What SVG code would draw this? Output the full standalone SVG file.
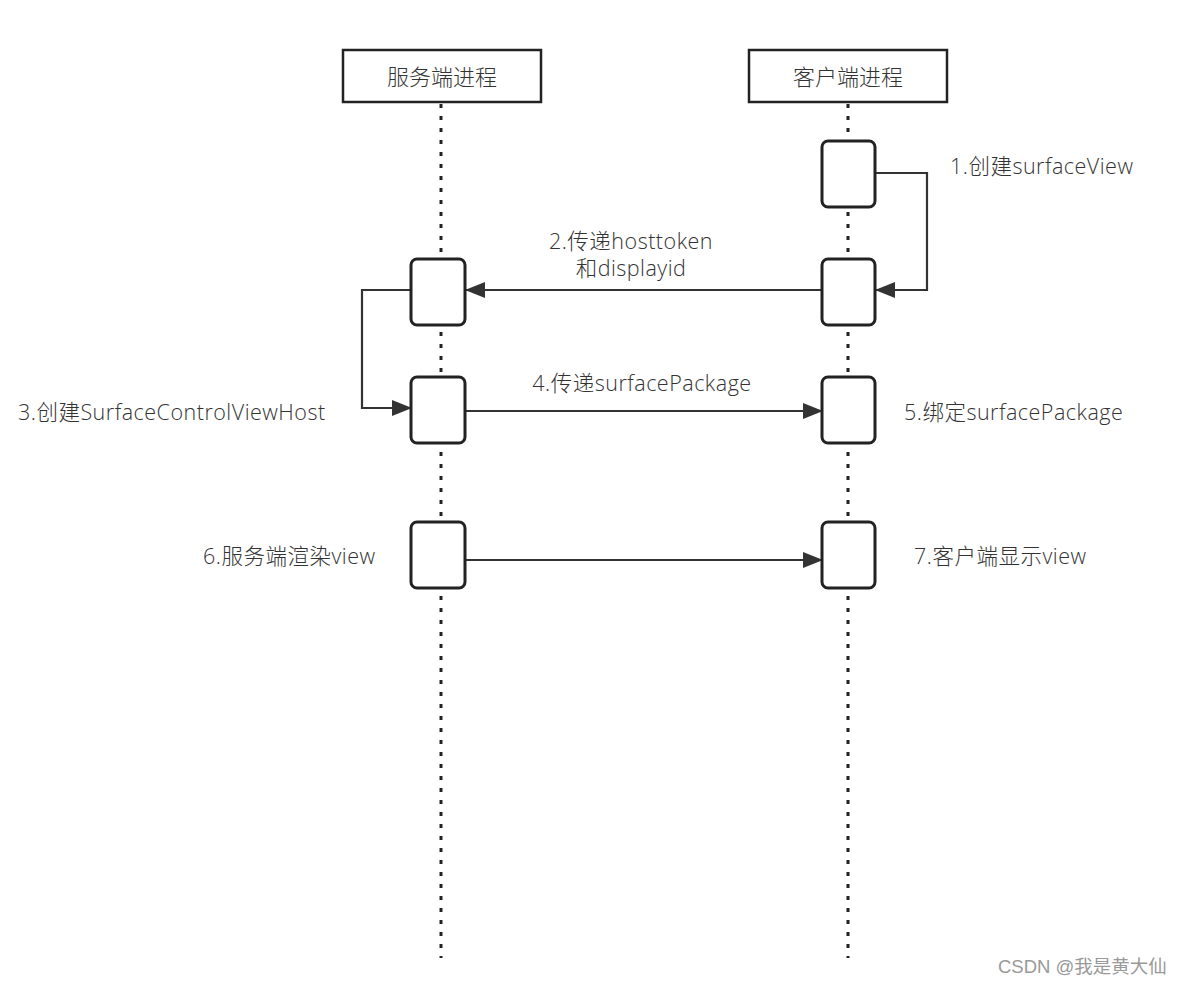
<svg xmlns="http://www.w3.org/2000/svg" width="1184" height="986" viewBox="0 0 1184 986">
<defs>
<marker id="ah" markerWidth="20" markerHeight="16" refX="19" refY="8" orient="auto" markerUnits="userSpaceOnUse" viewBox="0 0 20 16">
<path d="M0,0 L20,8 L0,16 Z" fill="#333"/>
</marker>
<style>
.life{stroke:#222;stroke-width:3;stroke-dasharray:4 8;fill:none}
.hdr{fill:#fff;stroke:#222;stroke-width:2.5}
.act{fill:#fff;stroke:#222;stroke-width:3}
.msg{stroke:#333;stroke-width:2.2;fill:none}
.t{font-family:"Open Sans","Noto Sans","Noto Sans CJK SC",sans-serif;font-size:21.5px;font-weight:300;fill:#333;letter-spacing:0.5px}
.h{font-size:22px;letter-spacing:0}
.wm{font-family:"Liberation Sans","Noto Sans CJK SC",sans-serif;font-size:18.5px;fill:#999}
</style>
</defs>
<rect width="1184" height="986" fill="#fff"/>
<g id="lifelines">
<line class="life" x1="441" y1="104" x2="441" y2="958"/>
<line class="life" x1="848" y1="104" x2="848" y2="958"/>
</g>
<g id="server-header"><rect class="hdr" x="343" y="50" width="198" height="52"/><text class="t h" x="442" y="85" text-anchor="middle">服务端进程</text></g>
<g id="client-header"><rect class="hdr" x="749" y="50" width="198" height="52"/><text class="t h" x="848" y="85" text-anchor="middle">客户端进程</text></g>
<g id="connectors">
<polyline class="msg" points="875,173 927,173 927,290 876,290" marker-end="url(#ah)"/>
<line class="msg" x1="822" y1="290" x2="466" y2="290" marker-end="url(#ah)"/>
<polyline class="msg" points="411,290 362,290 362,408 411,408" marker-end="url(#ah)"/>
<line class="msg" x1="465" y1="411" x2="822" y2="411" marker-end="url(#ah)"/>
<line class="msg" x1="465" y1="560" x2="822" y2="560" marker-end="url(#ah)"/>
</g>
<g id="c1"><rect class="act" x="822" y="141" width="53" height="66" rx="6"/></g>
<g id="c2"><rect class="act" x="822" y="259" width="53" height="66" rx="6"/></g>
<g id="c3"><rect class="act" x="822" y="377" width="53" height="66" rx="6"/></g>
<g id="c4"><rect class="act" x="822" y="522" width="53" height="66" rx="6"/></g>
<g id="s1"><rect class="act" x="411" y="259" width="54" height="66" rx="6"/></g>
<g id="s2"><rect class="act" x="411" y="377" width="54" height="66" rx="6"/></g>
<g id="s3"><rect class="act" x="411" y="522" width="54" height="66" rx="6"/></g>
<g id="labels">
<text class="t" x="950" y="174">1.创建surfaceView</text>
<text class="t" x="631" y="249" text-anchor="middle">2.传递hosttoken</text>
<text class="t" x="631" y="276" text-anchor="middle">和displayid</text>
<text class="t" x="18" y="420">3.创建SurfaceControlViewHost</text>
<text class="t" x="642" y="391" text-anchor="middle">4.传递surfacePackage</text>
<text class="t" x="904" y="420">5.绑定surfacePackage</text>
<text class="t" x="203" y="564">6.服务端渲染view</text>
<text class="t" x="914" y="564">7.客户端显示view</text>
</g>
<text class="wm" x="998" y="973">CSDN @我是黄大仙</text>
</svg>
